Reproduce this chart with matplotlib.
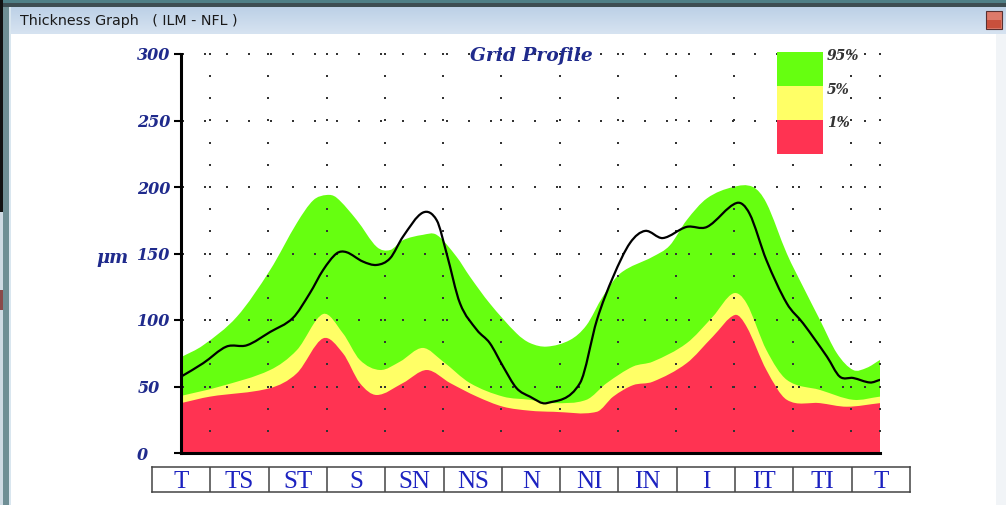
import numpy as np
import matplotlib
matplotlib.use("Agg")
import matplotlib.pyplot as plt
from matplotlib.patches import Rectangle, PathPatch
from matplotlib.path import Path
from matplotlib.colors import LinearSegmentedColormap

# ---------------- data ----------------
sectors = ["T", "TS", "ST", "S", "SN", "NS", "N", "NI", "IN", "I", "IT", "TI", "T"]
y_ticks = [0, 50, 100, 150, 200, 250, 300]

# position along the profile in sector units (0 = T ... 12 = T)
p95_x = [0, 0.38, 0.96, 1.53, 1.99, 2.27, 2.50, 2.67, 3.02, 3.36, 3.59, 3.81, 4.15, 4.39,
         4.73, 4.96, 5.30, 5.76, 5.99, 6.28, 6.68, 6.96, 7.24, 7.54, 8.10, 8.39, 8.68,
         9.03, 9.48, 9.82, 10.05, 10.40, 10.68, 10.97, 11.26, 11.54, 11.77, 12.0]
p95_y = [72, 81, 102.5, 137.6, 173, 190, 194, 192, 175, 155, 152.6, 160, 164, 164,
         147.6, 132.6, 112.5, 90, 82.7, 80, 85, 96, 117.5, 135, 147.6, 156, 175,
         191.5, 200, 200, 188, 150, 125, 100, 75, 62.4, 64, 70]

p5_x = [0, 0.67, 1.53, 1.99, 2.44, 2.78, 3.07, 3.42, 3.76, 4.15, 4.50, 4.96, 5.53, 5.99,
        6.39, 6.96, 7.31, 7.76, 8.10, 8.68, 9.13, 9.48, 9.71, 10.05, 10.40, 10.97, 11.54, 12.0]
p5_y = [42.9, 50, 62.4, 77.4, 104.5, 90, 70, 62.4, 68.7, 79, 68.7, 52.6, 42.4, 40,
        37.5, 40, 52.6, 65, 68.7, 82.5, 102.5, 120, 112.5, 77.4, 55, 47.4, 40, 42.4]

p1_x = [0, 0.50, 1.53, 1.99, 2.44, 2.78, 3.07, 3.36, 3.81, 4.22, 4.62, 5.08, 5.53, 5.99,
        6.39, 7.14, 7.42, 7.76, 8.10, 8.68, 9.13, 9.51, 9.71, 10.05, 10.40, 10.97, 11.43, 12.0]
p1_y = [37.5, 42.4, 48.8, 60, 86.2, 75, 52.6, 43.6, 52.6, 62.4, 52.6, 42.4, 34.8, 31.8,
        31, 31, 42.4, 51, 53.6, 67.5, 87.5, 103.8, 95, 62.4, 40, 37.5, 34.8, 37.5]

meas_x = [0, 0.38, 0.78, 1.13, 1.53, 1.92, 2.21, 2.44, 2.67, 2.84, 3.12, 3.36, 3.59, 3.81,
          4.15, 4.39, 4.56, 4.79, 5.08, 5.30, 5.53, 5.76, 5.99, 6.28, 6.85, 7.14, 7.42,
          7.71, 7.97, 8.27, 8.68, 9.03, 9.54, 9.76, 10.05, 10.40, 10.68, 11.09, 11.31,
          11.54, 11.83, 12.0]
meas_y = [57.4, 67.5, 80, 81, 91, 101.5, 120, 137.6, 150, 151, 144, 141.4, 146.4, 162.6,
          180.7, 175, 150, 112.5, 92.5, 82.7, 65, 48.8, 42.4, 37.5, 52.6, 100, 132.6,
          158, 167, 161.6, 170, 170, 188, 180, 145, 112.5, 97.5, 72.4, 57.4,
          56.4, 53, 55]

legend_labels = ["95%", "5%", "1%"]

# ---------------- style ----------------
GREEN = "#66ff10"
YELLOW = "#ffff66"
RED = "#ff3352"
NAVY = "#1f2a8c"
LABEL_BLUE = "#1c22c0"

W, H = 1006, 505
fig = plt.figure(figsize=(W / 100, H / 100), dpi=100)
fig.patch.set_facecolor("white")


def fr(x0, y0, x1, y1):
    """pixel box (top-left origin) -> figure fraction rect"""
    return [x0 / W, 1 - y1 / H, (x1 - x0) / W, (y1 - y0) / H]


def frect(x0, y0, x1, y1, color, z=0, **kw):
    l, b, w, h = fr(x0, y0, x1, y1)
    fig.add_artist(Rectangle((l, b), w, h, transform=fig.transFigure,
                             facecolor=color, edgecolor=kw.pop("ec", "none"),
                             lw=kw.pop("lw", 0), zorder=z, **kw))


def smooth_segments(xs, ys):
    """cubic Bezier segments (Hermite with finite-difference slopes)"""
    x = np.asarray(xs, float)
    y = np.asarray(ys, float)
    n = len(x)
    m = np.empty(n)
    m[0] = (y[1] - y[0]) / (x[1] - x[0])
    m[-1] = (y[-1] - y[-2]) / (x[-1] - x[-2])
    for i in range(1, n - 1):
        m[i] = (y[i + 1] - y[i - 1]) / (x[i + 1] - x[i - 1])
    verts, codes = [], []
    for i in range(n - 1):
        h = x[i + 1] - x[i]
        verts += [(x[i] + h / 3, y[i] + m[i] * h / 3),
                  (x[i + 1] - h / 3, y[i + 1] - m[i + 1] * h / 3),
                  (x[i + 1], y[i + 1])]
        codes += [Path.CURVE4] * 3
    return verts, codes


def smooth_fill(ax, xs, ys, color, z):
    sv, sc = smooth_segments(xs, ys)
    verts = [(xs[0], 0), (xs[0], ys[0])] + sv + [(xs[-1], 0), (xs[0], 0)]
    codes = [Path.MOVETO, Path.LINETO] + sc + [Path.LINETO, Path.CLOSEPOLY]
    ax.add_patch(PathPatch(Path(verts, codes), facecolor=color, edgecolor="none",
                           lw=0, zorder=z))


def smooth_line(ax, xs, ys, color, lw, z):
    sv, sc = smooth_segments(xs, ys)
    verts = [(xs[0], ys[0])] + sv
    codes = [Path.MOVETO] + sc
    ax.add_patch(PathPatch(Path(verts, codes), facecolor="none", edgecolor=color,
                           lw=lw, zorder=z, joinstyle="round", capstyle="round"))


# window chrome
frect(0, 0, W, 3, "#4f7f86")
frect(0, 3, W, 7, "#3d4d52")
tb = fig.add_axes(fr(10, 7, W, 34))
grad = np.linspace(0, 1, 30).reshape(-1, 1)
cm = LinearSegmentedColormap.from_list("tb", ["#bcd0e6", "#d6e3f1"])
tb.imshow(grad, aspect="auto", cmap=cm, extent=[0, 1, 0, 1])
tb.set_axis_off()
fig.text(20 / W, 1 - 21 / H, "Thickness Graph   ( ILM - NFL )", fontsize=10.3,
         family="DejaVu Sans", color="#1a1a1a", va="center", ha="left")
frect(0, 0, 3, 212, "#111111", z=1)
frect(3, 7, 9, H, "#6f8f95", z=1)
frect(9, 7, 11, H, "#d9e6ef", z=1)
frect(0, 212, 3, H, "#cfdbe4", z=1)
frect(0, 290, 3, 310, "#8a4a4a", z=1)
frect(996, 34, W, H, "#f1f4f7", z=1)
frect(986, 11, 1002, 29, "#dd7a6a", z=2, ec="#5a3030", lw=0.8)
frect(987, 20, 1001, 28, "#c8503c", z=2)

# ---------------- main axes ----------------
ax = fig.add_axes(fr(181, 54, 880, 453))
ax.set_xlim(0, 12)
ax.set_ylim(0, 300)
ax.set_facecolor("white")

smooth_fill(ax, p95_x, p95_y, GREEN, 1)
smooth_fill(ax, p5_x, p5_y, YELLOW, 2)
smooth_fill(ax, p1_x, p1_y, RED, 3)

# dotted grid
step_x = 22 / 58.25
gx = np.arange(0.034, 12.01, step_x)
for yv in y_ticks[1:]:
    ax.scatter(gx, np.full_like(gx, yv), s=0.9, marker="s", color="#333333",
               lw=0, zorder=4, clip_on=False)
gy = np.arange(0, 300.1, 50 / 3)
for xv in list(np.arange(0.5, 12, 1.0)) + [12.0]:
    ax.scatter(np.full_like(gy, xv), gy, s=0.9, marker="s", color="#333333",
               lw=0, zorder=4, clip_on=False)

smooth_line(ax, meas_x, meas_y, "black", 1.6, 5)

for s in ["top", "right"]:
    ax.spines[s].set_visible(False)
ax.spines["left"].set_linewidth(2.2)
ax.spines["bottom"].set_linewidth(2.2)
ax.spines["left"].set_zorder(6)
ax.spines["bottom"].set_zorder(6)
ax.set_xticks([])
ax.set_yticks(y_ticks)
ax.set_yticklabels([str(v) for v in y_ticks], family="DejaVu Serif",
                   fontweight="bold", fontstyle="italic", fontsize=11.5, color=NAVY)
ax.tick_params(axis="y", length=5, width=1.5, direction="out", pad=26.5)
for lab in ax.get_yticklabels():
    lab.set_horizontalalignment("left")

ax.set_ylabel("\u03bcm", rotation=0, family="DejaVu Serif", fontstyle="italic",
              fontweight="bold", fontsize=13, color=NAVY)
ax.yaxis.set_label_coords(-0.0973, 0.489)
ax.yaxis.label.set_verticalalignment("center")
ax.yaxis.label.set_horizontalalignment("center")

ax.text(0.5007, 0.995, "Grid Profile", transform=ax.transAxes, ha="center", va="center",
        family="DejaVu Serif", fontweight="bold", fontstyle="italic", fontsize=13.4,
        color=NAVY, zorder=7)

# ---------------- legend ----------------
lg = fig.add_axes(fr(777, 52, 823, 154))
lg.set_xlim(0, 1)
lg.set_ylim(0, 3)
for i, c in enumerate([RED, YELLOW, GREEN]):
    lg.add_patch(Rectangle((0, i), 1, 1, facecolor=c, lw=0))
lg.set_axis_off()
for lab, ypx in zip(legend_labels, [56, 90, 123]):
    fig.text(827 / W, 1 - ypx / H, lab, family="DejaVu Serif", fontweight="bold",
             fontstyle="italic", fontsize=10, color="#333333", va="center", ha="left")

# ---------------- sector label strip ----------------
sx = fig.add_axes(fr(152, 467, 910, 492))
sx.set_xlim(-0.5, 12.5)
sx.set_ylim(0, 1)
for k in range(len(sectors) - 1):
    sx.axvline(k + 0.5, color="#444444", lw=1.1)
for k, lab in enumerate(sectors):
    sx.text(k, 0.42, lab, ha="center", va="center", family="Liberation Serif",
            fontsize=18, color=LABEL_BLUE)
for s in sx.spines.values():
    s.set_linewidth(1.1)
    s.set_color("#444444")
sx.set_xticks([])
sx.set_yticks([])

fig.savefig("out.png", dpi=100)
